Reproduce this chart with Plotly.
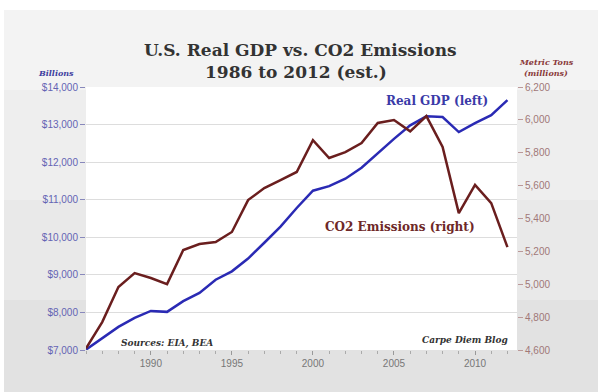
import plotly.graph_objects as go

years = list(range(1986, 2013))
gdp_billions = [7010, 7320, 7614, 7855, 8040, 8015, 8300, 8520, 8871, 9094,
                9434, 9854, 10284, 10780, 11240, 11360, 11560, 11850, 12240, 12620,
                12980, 13220, 13200, 12800, 13040, 13250, 13650]
co2_mmt = [4610, 4770, 4983, 5068, 5038, 5001, 5208, 5245, 5257, 5318,
           5512, 5585, 5634, 5683, 5877, 5768, 5804, 5859, 5981, 5999,
           5930, 6023, 5835, 5433, 5604, 5494, 5226]
left_ticks = [7000, 8000, 9000, 10000, 11000, 12000, 13000, 14000]
left_labels = ["$7,000", "$8,000", "$9,000", "$10,000", "$11,000", "$12,000", "$13,000", "$14,000"]
right_ticks = [4600, 4800, 5000, 5200, 5400, 5600, 5800, 6000, 6200]
right_labels = ["4,600", "4,800", "5,000", "5,200", "5,400", "5,600", "5,800", "6,000", "6,200"]

W, H = 598, 392
ML, MR, MT, MB = 86, 81, 87, 42
PW, PH = W - ML - MR, H - MT - MB

def px(x):
    return (x - ML) / PW

def py(y):
    return (H - MB - y) / PH

fig = go.Figure()
fig.add_trace(go.Scatter(x=years, y=gdp_billions, mode="lines", name="Real GDP",
                         line=dict(color="#2a2ab4", width=2.5), yaxis="y"))
fig.add_trace(go.Scatter(x=years, y=co2_mmt, mode="lines", name="CO2",
                         line=dict(color="#6a1e1e", width=2.5), yaxis="y2"))

shapes = []
bands = [(10, 90, "#f3f3f3"), (90, 200, "#eeeeee"), (200, 300, "#e9e9e9"), (300, 392, "#e2e2e2")]
for y0, y1, c in bands:
    shapes.append(dict(type="rect", xref="paper", yref="paper", x0=px(4), x1=px(W),
                       y0=py(y1), y1=py(y0), fillcolor=c, line=dict(width=0), layer="below"))
shapes.append(dict(type="rect", xref="paper", yref="paper", x0=0, x1=1, y0=0, y1=1,
                   fillcolor="white", line=dict(width=0), layer="below"))

serif = "DejaVu Serif"
ann = [
    dict(text="<b>U.S. Real GDP vs. CO2 Emissions</b>", x=px(300), y=py(50),
         font=dict(family=serif, size=17, color="#333333")),
    dict(text="<b>1986 to 2012 (est.)</b>", x=px(296), y=py(72),
         font=dict(family=serif, size=17, color="#333333")),
    dict(text="<b><i>Billions</i></b>", x=px(56), y=py(73),
         font=dict(family=serif, size=8, color="#4040a0")),
    dict(text="<b><i>Metric Tons</i></b>", x=px(546), y=py(62),
         font=dict(family=serif, size=8, color="#8a3a3a")),
    dict(text="<b><i>(millions)</i></b>", x=px(546), y=py(73),
         font=dict(family=serif, size=8, color="#8a3a3a")),
    dict(text="<b>Real GDP (left)</b>", x=px(437), y=py(101),
         font=dict(family=serif, size=12, color="#3a3aa8")),
    dict(text="<b>CO2 Emissions (right)</b>", x=px(400), y=py(227),
         font=dict(family=serif, size=12, color="#6e2828")),
    dict(text="<b><i>Sources: EIA, BEA</i></b>", x=px(167), y=py(343),
         font=dict(family=serif, size=9, color="#333333")),
    dict(text="<b><i>Carpe Diem Blog</i></b>", x=px(465), y=py(340),
         font=dict(family=serif, size=9, color="#333333")),
]
annotations = []
for a in ann:
    a.update(xref="paper", yref="paper", showarrow=False, xanchor="center", yanchor="middle")
    annotations.append(a)

fig.update_layout(
    width=W, height=H,
    margin=dict(l=ML, r=MR, t=MT, b=MB),
    paper_bgcolor="white", plot_bgcolor="white",
    showlegend=False,
    shapes=shapes, annotations=annotations,
    xaxis=dict(range=[1986, 2012.59], tickvals=[1990, 1995, 2000, 2005, 2010],
               ticks="outside", ticklen=4, tickcolor="#999999", showgrid=False,
               zeroline=False, showline=False,
               minor=dict(ticks="outside", ticklen=3, dtick=1, tick0=1986, tickcolor="#aaaaaa"),
               tickfont=dict(family="Liberation Sans", size=10, color="#777777")),
    yaxis=dict(range=[7000, 14000], tickvals=left_ticks, ticktext=left_labels,
               ticks="outside", ticklen=5, tickcolor="#8888bb",
               showgrid=True, gridcolor="#dddddd", gridwidth=1, zeroline=False, showline=False,
               tickfont=dict(family="Liberation Sans", size=10, color="#6464b4")),
    yaxis2=dict(range=[4600, 6200], tickvals=right_ticks, ticktext=right_labels,
                overlaying="y", side="right",
                ticks="outside", ticklen=5, tickcolor="#bb9999",
                showgrid=False, zeroline=False, showline=False,
                tickfont=dict(family="Liberation Sans", size=10, color="#a07878")),
)

fig.write_html("out.html")
